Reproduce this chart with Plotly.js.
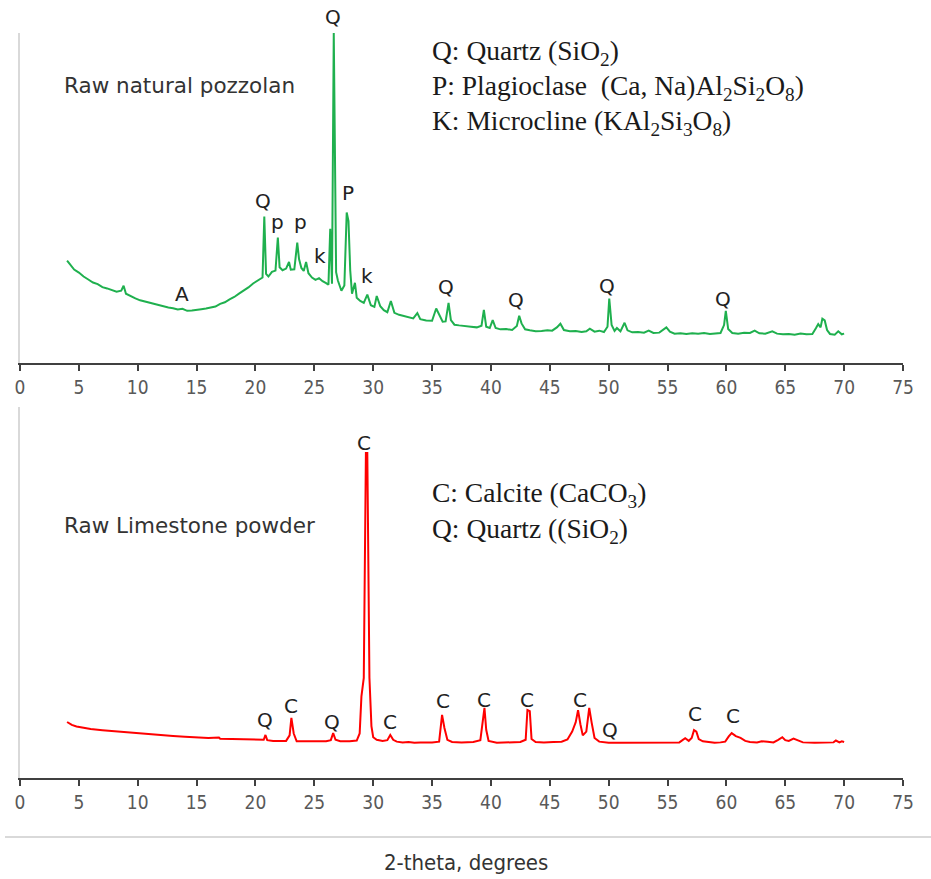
<!DOCTYPE html>
<html>
<head>
<meta charset="utf-8">
<script src="https://cdn.plot.ly/plotly-3.0.1.min.js"></script>
<style>html,body{margin:0;padding:0;background:#fff;}#chart{width:931px;height:879px;}</style>
</head>
<body>
<div id="chart"></div>
<script>
// ---- Raw natural pozzolan (top panel) ----
const pozzolanTheta = [4.0,4.3,4.6,5.0,5.4,5.8,6.2,6.6,7.0,7.4,7.8,8.2,8.6,8.8,9.0,9.4,9.8,10.2,10.6,11.0,11.4,11.8,12.2,12.6,13.0,13.4,13.8,14.2,14.6,15.0,15.4,15.8,16.2,16.6,17.0,17.4,17.8,18.2,18.6,19.0,19.4,19.8,20.2,20.6,20.75,20.9,21.1,21.4,21.7,21.9,22.05,22.3,22.6,22.85,23.0,23.3,23.55,23.7,23.9,24.1,24.3,24.5,24.8,25.1,25.4,25.7,26.0,26.2,26.35,26.5,26.65,26.75,26.85,27.0,27.3,27.55,27.75,27.9,28.05,28.2,28.45,28.6,28.9,29.2,29.5,29.8,30.1,30.3,30.6,30.9,31.2,31.5,31.8,32.2,32.6,33.0,33.4,33.75,34.0,34.5,35.0,35.35,35.6,35.9,36.15,36.4,36.6,36.9,37.3,37.8,38.3,38.8,39.2,39.4,39.6,39.9,40.15,40.4,40.8,41.3,41.8,42.2,42.4,42.6,42.9,43.3,43.8,44.3,44.8,45.2,45.6,45.9,46.2,46.7,47.2,47.7,48.1,48.4,48.8,49.2,49.6,49.9,50.05,50.25,50.5,50.7,51.0,51.35,51.6,52.0,52.5,53.0,53.4,53.8,54.3,54.9,55.2,55.6,56.1,56.6,57.1,57.6,58.1,58.6,59.1,59.5,59.8,59.95,60.15,60.5,61.0,61.5,62.0,62.4,62.8,63.3,63.9,64.3,64.8,65.3,65.8,66.3,66.8,67.3,67.6,67.8,68.0,68.15,68.35,68.55,68.8,69.2,69.5,69.8,70.0];
const pozzolanIntensity = [31.0,29.5,28.3,27.4,26.2,25.3,24.4,23.9,23.0,22.6,22.0,21.6,21.9,23.4,21.0,20.2,19.6,19.0,18.6,18.2,17.8,17.5,17.1,16.8,16.6,16.2,16.4,15.8,15.9,16.0,16.3,16.5,16.9,17.1,17.9,18.4,19.3,20.0,21.0,21.9,22.9,24.1,25.0,25.9,44.4,27.0,26.2,27.6,28.0,38.0,29.0,28.1,28.6,30.6,28.3,28.4,36.5,31.5,28.8,27.9,30.6,27.2,25.9,25.2,25.7,24.8,24.2,23.7,40.7,24.0,100,67.5,27.5,25.0,21.9,23.5,45.6,43.0,28.0,21.0,24.3,19.8,18.8,18.2,20.7,17.5,17.0,20.3,17.2,16.0,15.4,18.8,15.2,14.6,14.2,13.7,13.5,15.1,13.3,12.9,12.8,16.5,14.8,12.5,12.6,18.2,13.0,11.6,11.4,11.1,11.0,10.8,11.3,16.1,11.0,10.6,13.0,10.6,10.2,10.3,10.0,11.2,14.3,12.0,10.2,9.9,9.6,9.7,9.9,9.8,10.8,11.9,10.0,9.6,9.7,9.4,9.6,10.4,9.5,9.8,9.4,11.0,19.5,11.5,9.7,10.6,9.6,12.2,9.9,9.3,9.4,9.2,9.8,9.1,9.2,10.8,9.5,8.9,9.0,8.8,9.0,8.9,9.1,8.8,9.0,9.1,11.5,15.8,10.3,9.1,8.9,9.2,9.1,9.8,9.0,8.9,9.6,8.9,8.7,8.8,8.6,8.9,8.7,8.8,10.5,11.8,10.8,13.4,12.9,10.0,8.8,8.6,9.6,8.7,8.9];
const pozzolanLabelText  = ["Q","p","p","k","P","k","A","Q","Q","Q","Q"];
const pozzolanLabelTheta = [20.6,21.9,23.8,25.5,27.9,29.5,13.8,36.2,42.1,49.9,59.7];
const pozzolanLabelY     = [49.2,42.6,42.6,32.5,51.4,26.4,21.0,23.1,19.1,23.4,19.5];
const pozzolanTopLabel = {text: "Q", theta: 26.6};

// ---- Raw limestone powder (bottom panel) ----
const limestoneTheta = [4.0,4.4,4.8,5.3,6.0,7.0,8.0,9.0,10.0,11.0,12.0,13.0,14.0,15.0,16.0,16.9,17.0,18.0,19.0,20.0,20.7,20.85,21.0,21.5,22.0,22.6,22.9,23.05,23.25,23.5,24.0,25.0,26.0,26.4,26.6,26.8,27.2,28.0,28.6,28.85,29.0,29.2,29.38,29.5,29.68,29.85,30.0,30.3,30.8,31.2,31.45,31.7,32.0,32.5,33.0,33.5,34.0,35.0,35.6,35.85,36.05,36.3,36.7,37.5,38.5,39.1,39.3,39.45,39.6,39.8,40.5,41.5,42.5,42.95,43.1,43.3,43.45,43.8,44.5,45.3,46.0,46.5,46.9,47.2,47.4,47.6,47.8,48.1,48.35,48.55,48.8,49.2,50.0,51.0,52.0,53.0,54.0,55.0,56.0,56.5,56.8,57.05,57.25,57.45,57.65,58.0,58.5,59.0,59.5,59.9,60.2,60.45,60.8,61.2,61.6,62.0,62.6,63.0,63.5,64.0,64.4,64.75,65.0,65.3,65.7,66.1,66.5,67.5,68.5,69.1,69.3,69.6,69.8,70.0];
const limestoneIntensity = [15.1,14.3,13.9,13.6,13.2,12.9,12.6,12.3,12.0,11.8,11.5,11.3,11.1,10.9,10.8,10.9,10.6,10.5,10.4,10.3,10.3,11.6,10.2,10.0,10.0,10.0,11.5,16.2,12.0,9.9,9.9,9.9,9.9,10.2,12.1,10.3,9.9,9.9,10.1,12.0,22.0,27.0,87.6,87.6,27.0,14.0,11.0,10.3,10.0,10.2,11.6,10.3,9.8,9.6,9.7,9.5,9.6,9.6,9.8,17.0,13.5,10.3,9.7,9.6,9.7,10.2,14.5,18.9,13.0,10.0,9.5,9.6,9.7,10.3,18.3,18.0,10.5,9.7,9.6,9.7,9.8,10.4,12.5,15.0,18.3,14.5,11.5,12.5,18.9,15.0,10.8,9.8,9.5,9.5,9.5,9.5,9.5,9.5,9.6,10.7,10.0,10.8,12.9,12.5,10.5,9.9,9.6,9.5,9.6,9.8,11.2,12.1,11.3,10.8,10.0,9.7,9.6,9.9,9.8,9.6,10.3,11.0,10.2,10.0,10.6,10.1,9.6,9.5,9.5,9.6,10.1,9.6,9.9,9.7];
const limestoneLabelText  = ["Q","C","Q","C","C","C","C","C","Q","C","C"];
const limestoneLabelTheta = [20.8,23.0,26.5,31.4,35.9,39.4,43.1,47.6,50.1,57.3,60.6];
const limestoneLabelY     = [15.6,19.4,15.1,15.1,20.8,21.0,21.0,21.0,12.9,17.3,16.7];
const limestoneTopLabel = {text: "C", theta: 29.2};

const xTickValues = [0,5,10,15,20,25,30,35,40,45,50,55,60,65,70,75];

const pozzolanLegend = ["Q: Quartz (SiO<sub>2</sub>)",
  "P: Plagioclase&nbsp; (Ca, Na)Al<sub>2</sub>Si<sub>2</sub>O<sub>8</sub>)",
  "K: Microcline (KAl<sub>2</sub>Si<sub>3</sub>O<sub>8</sub>)"];
const limestoneLegend = ["C: Calcite (CaCO<sub>3</sub>)", "Q: Quartz ((SiO<sub>2</sub>)"];

// ---- layout helpers (pixel -> paper) ----
const W = 931, H = 879;
const px = v => v / W;
const py = v => (H - v) / H;

const labelFont = {family: "DejaVu Sans, Verdana, sans-serif", size: 20, color: "#222222"};
const nameFont = {family: "DejaVu Sans, Verdana, sans-serif", size: 21.5, color: "#333333"};
const serifFont = {family: "Liberation Serif, Times New Roman, serif", size: 27.5, color: "#1a1a1a"};
const tickFont = {family: "Liberation Sans Narrow, DejaVu Sans Condensed, Arial Narrow, sans-serif", size: 19, color: "#595959"};

const traces = [
  {x: pozzolanTheta, y: pozzolanIntensity, type: "scatter", mode: "lines",
   line: {color: "#1fb04e", width: 2}, xaxis: "x", yaxis: "y", hoverinfo: "skip"},
  {x: limestoneTheta, y: limestoneIntensity, type: "scatter", mode: "lines",
   line: {color: "#ff0000", width: 2}, xaxis: "x2", yaxis: "y2", hoverinfo: "skip"}
];

const annotations = [];
pozzolanLabelText.forEach((t, i) => annotations.push({
  x: pozzolanLabelTheta[i], y: pozzolanLabelY[i], xref: "x", yref: "y", text: t,
  showarrow: false, font: labelFont, xanchor: "center", yanchor: "middle"}));
annotations.push({x: pozzolanTopLabel.theta, y: py(17), xref: "x", yref: "paper",
  text: pozzolanTopLabel.text, showarrow: false, font: labelFont, yanchor: "middle"});
limestoneLabelText.forEach((t, i) => annotations.push({
  x: limestoneLabelTheta[i], y: limestoneLabelY[i], xref: "x2", yref: "y2", text: t,
  showarrow: false, font: labelFont, xanchor: "center", yanchor: "middle"}));
annotations.push({x: limestoneTopLabel.theta, y: py(443), xref: "x2", yref: "paper",
  text: limestoneTopLabel.text, showarrow: false, font: labelFont, yanchor: "middle"});

annotations.push({x: px(62), y: py(86), xref: "paper", yref: "paper", text: "Raw natural pozzolan",
  showarrow: false, font: nameFont, xanchor: "left", yanchor: "middle"});
annotations.push({x: px(62), y: py(525), xref: "paper", yref: "paper", text: "Raw Limestone powder",
  showarrow: false, font: nameFont, xanchor: "left", yanchor: "middle"});

[52, 88, 123].forEach((yy, i) => annotations.push({x: px(430), y: py(yy), xref: "paper", yref: "paper",
  text: pozzolanLegend[i], showarrow: false, font: serifFont, xanchor: "left", yanchor: "middle"}));
[495, 530].forEach((yy, i) => annotations.push({x: px(430), y: py(yy), xref: "paper", yref: "paper",
  text: limestoneLegend[i], showarrow: false, font: serifFont, xanchor: "left", yanchor: "middle"}));

annotations.push({x: 0.5, y: py(862), xref: "paper", yref: "paper", text: "2-theta, degrees",
  showarrow: false, font: {family: "Liberation Sans Narrow, DejaVu Sans Condensed, sans-serif", size: 22, color: "#333333"},
  xanchor: "center", yanchor: "middle"});

const xAxisBase = {
  range: [0, 75], tickvals: xTickValues, ticktext: xTickValues.map(String),
  ticks: "outside", ticklen: 6, tickwidth: 2, tickcolor: "#404040",
  showline: true, linecolor: "#404040", linewidth: 2,
  showgrid: false, zeroline: false, tickfont: tickFont, fixedrange: true
};
const yAxisBase = {
  range: [0, 100], showline: true, linecolor: "#d9d9d9", linewidth: 2,
  showticklabels: false, ticks: "", showgrid: false, zeroline: false, fixedrange: true
};

const layout = {
  width: W, height: H, margin: {l: 0, r: 0, t: 0, b: 0},
  paper_bgcolor: "#ffffff", plot_bgcolor: "#ffffff", showlegend: false,
  xaxis: Object.assign({}, xAxisBase, {domain: [px(20), px(903)], anchor: "y"}),
  yaxis: Object.assign({}, yAxisBase, {domain: [py(363), py(33)], anchor: "x"}),
  xaxis2: Object.assign({}, xAxisBase, {domain: [px(20), px(903)], anchor: "y2"}),
  yaxis2: Object.assign({}, yAxisBase, {domain: [py(778), py(407)], anchor: "x2"}),
  annotations: annotations,
  shapes: [{type: "line", xref: "paper", yref: "paper", x0: px(5), x1: 1, y0: py(837), y1: py(837),
    line: {color: "#d9d9d9", width: 2}}]
};

Plotly.newPlot("chart", traces, layout, {staticPlot: true, displayModeBar: false});
</script>
</body>
</html>
